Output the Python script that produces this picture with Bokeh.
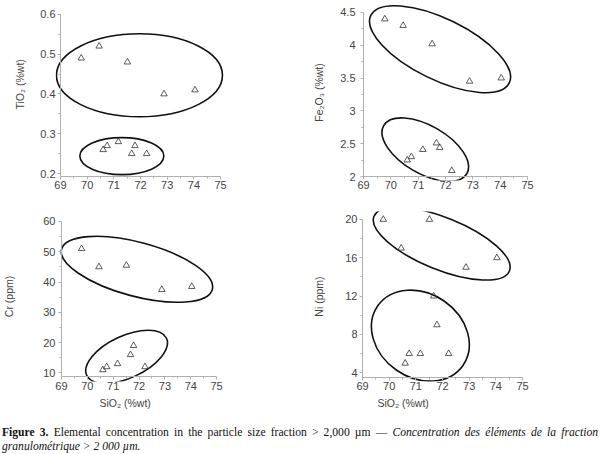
from bokeh.plotting import figure
from bokeh.layouts import column, row
from bokeh.models import (FixedTicker, NumeralTickFormatter, Title, Div,
                          LinearAxis, CustomLabelingPolicy)
from bokeh.embed import file_html
from bokeh.resources import INLINE
import numpy as np

# SiO2 content of the eleven samples (%wt)
sio2 = [69.78, 70.45, 71.51, 72.88, 74.04, 70.60, 70.75, 71.17, 71.67, 71.79, 72.23]

tio2 = [0.49, 0.52, 0.48, 0.40, 0.41, 0.26, 0.27, 0.28, 0.25, 0.27, 0.25]
fe2o3 = [4.40, 4.30, 4.02, 3.45, 3.50, 2.25, 2.30, 2.41, 2.51, 2.44, 2.09]
cr = [51, 45, 45.5, 37.5, 38.5, 11, 12, 13, 16, 19, 12]
ni = [20, 17, 20, 15, 16, 5, 6, 6, 12, 9, 6]

# group outlines: centre (data), size (px), tilt (degrees)
tio2_groups = [(71.96, 0.447, 166, 83, 0), (71.30, 0.244, 84, 37, 0)]
fe2o3_groups = [(71.80, 3.94, 154, 61, -26), (71.26, 2.41, 96, 48, -30)]
cr_groups = [(71.92, 44.2, 156, 54, -15), (71.52, 15.3, 88, 42, 25)]
ni_groups = [(71.97, 17.48, 146, 52, -22), (71.17, 7.88, 104, 84, -35)]

x_ticks = [69, 70, 71, 72, 73, 74, 75]
x_minor = [69.5 + i for i in range(6)]
X_LO, X_HI = 69, 75

FONT = "Liberation Sans"
GREY = "#b0b0b0"
TEXT = "#444444"

NO_LABELS = CustomLabelingPolicy(code="""
    for (const i of indices) indices.unset(i)
    return indices
""")


def style_labels(ax):
    """Axis that only carries the tick labels and the title, at the frame edge."""
    ax.axis_line_color = None
    ax.major_tick_line_color = None
    ax.minor_tick_line_color = None
    ax.major_tick_out = 0
    ax.major_tick_in = 0
    ax.minor_tick_out = 0
    ax.minor_tick_in = 0
    ax.major_label_text_font = FONT
    ax.major_label_text_font_size = "11px"
    ax.major_label_text_color = TEXT
    ax.axis_label_text_font = FONT
    ax.axis_label_text_font_size = "10.5px"
    ax.axis_label_text_font_style = "normal"
    ax.axis_label_text_color = TEXT


def line_axis(ticker, loc, bounds):
    """Axis line with its ticks, pinned to the data origin of the panel."""
    ax = LinearAxis(ticker=ticker, fixed_location=loc, bounds=bounds,
                    major_label_policy=NO_LABELS)
    ax.axis_line_color = GREY
    ax.major_tick_line_color = GREY
    ax.minor_tick_line_color = GREY
    ax.major_tick_out = 3
    ax.major_tick_in = 0
    ax.minor_tick_out = 2
    ax.minor_tick_in = 0
    ax.major_label_standoff = 0
    return ax


def side_title(text, **kw):
    return Title(text=text, text_font=FONT, text_font_size="10.5px",
                 text_font_style="normal", text_color=TEXT, **kw)


def panel(y, ylabel, y_lo, y_hi, y_ticks, y_minor, fmt, groups, size, box, pads,
          label_standoff, ylabel_offset=None, xlabel=None, xlabel_offset=0):
    """box = axis corner positions in px (left, right, top, bottom) inside the figure;
    pads = extra frame room around the axes (left, right, top, bottom) so the
    outlines are not clipped at the axes."""
    w, h = size
    bl, br, bt, bb = box
    pl, pr, pt, pb = pads
    sx = (br - bl) / (X_HI - X_LO)
    sy = (bb - bt) / (y_hi - y_lo)
    p = figure(width=w, height=h,
               x_range=(X_LO - pl / sx, X_HI + pr / sx),
               y_range=(y_lo - pb / sy, y_hi + pt / sy),
               output_backend="svg", toolbar_location=None,
               min_border_left=bl - pl, min_border_right=w - br - pr,
               min_border_top=bt - pt, min_border_bottom=h - bb - pb)
    p.outline_line_color = None
    p.grid.visible = False
    p.background_fill_color = "white"
    p.border_fill_color = "white"

    xt = FixedTicker(ticks=x_ticks, minor_ticks=x_minor)
    yt = FixedTicker(ticks=y_ticks, minor_ticks=y_minor)
    p.xaxis.ticker = xt
    p.yaxis.ticker = yt
    p.yaxis.formatter = NumeralTickFormatter(format=fmt)
    style_labels(p.xaxis[0])
    style_labels(p.yaxis[0])
    p.xaxis.major_label_standoff = 0
    p.yaxis.major_label_standoff = 0

    p.add_layout(line_axis(xt, y_lo, (X_LO, X_HI)), "below")
    p.add_layout(line_axis(yt, X_LO, (y_lo, y_hi)), "left")

    if ylabel_offset is None:
        p.yaxis[0].axis_label = ylabel
        p.yaxis[0].axis_label_standoff = label_standoff
    else:
        p.add_layout(side_title(ylabel, align="left", offset=ylabel_offset,
                                standoff=label_standoff), "left")

    if xlabel:
        p.add_layout(side_title(xlabel, align="left", offset=xlabel_offset,
                                standoff=4), "below")

    for cx, cy, ew, eh, ang in groups:
        p.ellipse(x=cx, y=cy, width=ew, height=eh, width_units="screen",
                  height_units="screen", angle=np.radians(ang),
                  fill_color=None, line_color="#111111", line_width=1.6)

    p.scatter(sio2, y, marker="triangle", size=6.5, fill_color=None,
              line_color="#333333", line_width=0.8)
    return p


p_ti = panel(tio2, "TiO₂ (%wt)", 0.1926, 0.6, [0.2, 0.3, 0.4, 0.5, 0.6],
             [0.25, 0.35, 0.45, 0.55], "0.0", tio2_groups,
             (300, 200), (58, 220, 14, 179), (5, 10, 10, 4), 23, ylabel_offset=71)
p_fe = panel(fe2o3, "Fe₂O₃ (%wt)", 2, 4.5, [2, 2.5, 3, 3.5, 4, 4.5],
             [2.25, 2.75, 3.25, 3.75, 4.25], "0.[0]", fe2o3_groups,
             (300, 200), (63, 227, 11, 176), (8, 10, 8, 4), 12)
p_cr = panel(cr, "Cr (ppm)", 8.8, 60, [10, 20, 30, 40, 50, 60],
             [15, 25, 35, 45, 55], "0", cr_groups,
             (300, 215), (59, 216, 21, 177), (6, 10, 10, 5), 25,
             xlabel="SiO₂ (%wt)", xlabel_offset=44)
p_ni = panel(ni, "Ni (ppm)", 3.51, 20, [4, 8, 12, 16, 20],
             [6, 10, 14, 18], "0", ni_groups,
             (300, 215), (62, 222, 18, 177), (5, 10, 8, 4), 17,
             xlabel="SiO₂ (%wt)", xlabel_offset=20)

caption = Div(
    text=("<div style='text-align: justify; text-align-last: justify; width: 596px;'>"
          "<b>Figure 3.</b> Elemental concentration in the particle size fraction "
          "&gt; 2,000 µm — <i>Concentration des éléments de la fraction</i></div>"
          "<div><i>granulométrique &gt; 2 000 µm.</i></div>"),
    width=596, height=39,
    styles={"font-family": "'Liberation Serif', serif", "font-size": "11.6px",
            "line-height": "14px", "color": "#111111",
            "padding-top": "6px", "margin-left": "2px"},
)

layout = column(row(p_ti, p_fe), row(p_cr, p_ni), caption, spacing=0)

open("out.html", "w").write(file_html(layout, INLINE))
